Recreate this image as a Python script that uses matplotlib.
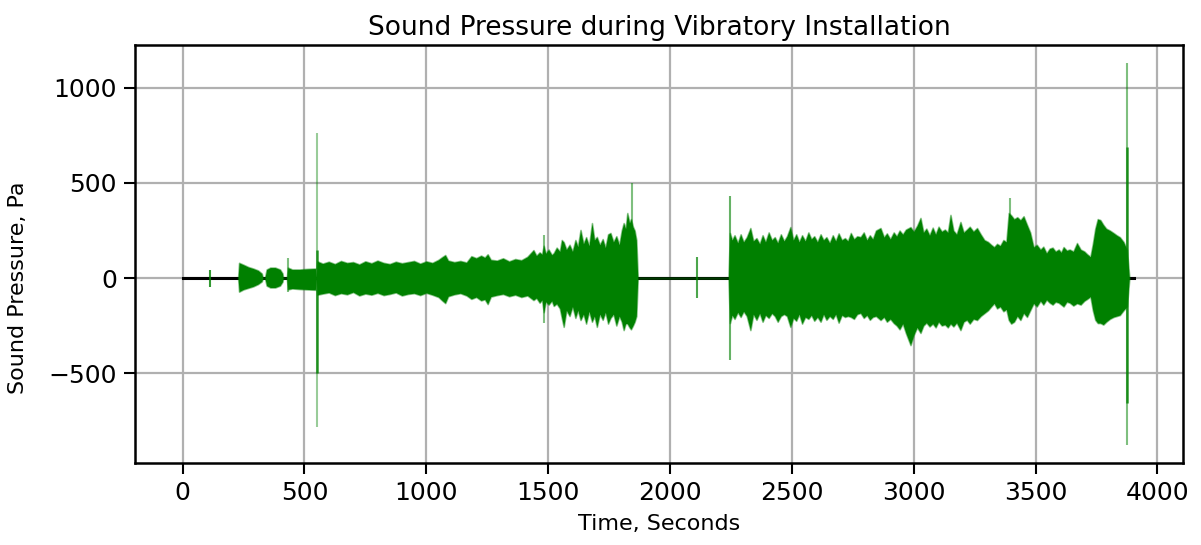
import numpy as np
from matplotlib import pyplot as plt

# quiet record (black trace) runs the whole length
record_t = [0, 3905]
record_p = [0, 0]

# envelope of the green waveform: time (s), upper / lower (Pa)
env_t = [228, 232, 250, 270, 290, 310, 325, 330,
         338, 345, 360, 380, 400, 410, 413,
         428, 432, 450, 480, 510, 545, 549,
         553, 575, 600, 625, 650, 675, 700, 725, 750, 775,
         800, 825, 850, 875, 900, 925, 950, 975, 1000, 1025,
         1050, 1065, 1078, 1090, 1115, 1140, 1165, 1185, 1205, 1225,
         1240, 1252, 1265, 1290, 1315, 1340, 1365, 1390, 1415, 1440,
         1452, 1465, 1475, 1482, 1490, 1502, 1515, 1523, 1535, 1548,
         1556, 1564, 1575, 1588, 1600, 1612, 1622, 1633, 1645, 1656,
         1668, 1680, 1690, 1700, 1712, 1724, 1735, 1746, 1756, 1768,
         1780, 1792, 1802, 1810, 1818, 1825, 1834, 1840, 1848, 1855, 1862, 1868,
         2240, 2246, 2255, 2265, 2278, 2290, 2302, 2315, 2330, 2342,
         2355, 2368, 2380, 2392, 2405, 2418, 2430, 2442, 2455, 2468,
         2480, 2494, 2506, 2518, 2530, 2542, 2555, 2568, 2580, 2592,
         2605, 2618, 2630, 2642, 2655, 2668, 2680, 2692, 2705, 2718,
         2730, 2742, 2755, 2768, 2782, 2795, 2808, 2820, 2832, 2845,
         2864, 2878, 2890, 2904, 2918, 2930, 2942, 2955, 2968, 2987,
         3000, 3014, 3028, 3040, 3052, 3065, 3078, 3090, 3102, 3115,
         3128, 3140, 3151, 3163, 3176, 3192, 3205, 3218, 3230, 3245,
         3260, 3275, 3290, 3305, 3318, 3330, 3342, 3355, 3368, 3380,
         3390, 3400, 3412, 3425, 3438, 3451, 3465, 3478, 3492, 3505,
         3520, 3532, 3545, 3558, 3570, 3582, 3595, 3605, 3615, 3628,
         3640, 3655, 3670, 3685, 3700, 3712, 3725, 3735, 3745, 3755,
         3766, 3778, 3790, 3805, 3820, 3833, 3846, 3861, 3875, 3885]
env_hi = [0, 80, 70, 58, 50, 40, 24, 0,
          0, 45, 55, 55, 45, 25, 0,
          0, 55, 45, 45, 48, 50, 0,
          88, 76, 86, 74, 90, 80, 84, 72, 88, 78,
          92, 80, 74, 86, 78, 84, 90, 76, 88, 80,
          96, 110, 121, 92, 84, 90, 82, 115, 105, 118,
          108, 125, 96, 92, 104, 88, 100, 94, 112, 147,
          118, 135, 125, 170, 130, 150, 122, 131, 160, 140,
          200, 189, 150, 175, 140, 200, 165, 253, 180, 215,
          170, 289, 200, 216, 175, 205, 160, 230, 237, 190,
          220, 175, 250, 289, 260, 342, 290, 310, 270, 250, 200, 0,
          0, 237, 200, 225, 185, 230, 190, 215, 263, 195,
          210, 180, 225, 190, 240, 200, 215, 185, 230, 195,
          220, 268, 200, 230, 190, 225, 195, 240, 205, 220,
          190, 230, 200, 215, 185, 225, 195, 235, 200, 210,
          195, 237, 205, 220, 216, 240, 200, 225, 205, 250,
          263, 215, 235, 205, 240, 220, 250, 230, 255, 268,
          245, 275, 316, 240, 260, 225, 265, 230, 270, 245,
          255, 240, 332, 250, 230, 295, 240, 255, 270, 245,
          263, 230, 200, 190, 175, 163, 180, 170, 200, 190,
          342, 330, 310, 320, 305, 325, 280, 240, 163, 175,
          150, 165, 131, 155, 160, 140, 150, 135, 163, 145,
          150, 140, 184, 150, 140, 125, 112, 180, 260, 310,
          305, 280, 260, 250, 237, 225, 215, 190, 150, 0]
env_lo = [0, -72, -60, -52, -44, -32, -18, 0,
          0, -40, -50, -50, -40, -20, 0,
          0, -60, -55, -58, -60, -62, 0,
          -88, -82, -76, -90, -80, -86, -74, -92, -82, -88,
          -78, -90, -84, -76, -92, -84, -80, -90, -78, -88,
          -100, -118, -132, -96, -86, -80, -92, -110, -100, -118,
          -112, -137, -98, -90, -84, -96, -88, -100, -92, -116,
          -105, -130, -115, -180, -125, -140, -120, -147, -135, -160,
          -210, -257, -170, -200, -150, -210, -170, -221, -190, -240,
          -175, -230, -200, -257, -190, -220, -180, -240, -210, -190,
          -250, -200, -230, -274, -240, -240, -260, -270, -250, -230, -200, 0,
          0, -237, -195, -215, -180, -205, -175, -200, -274, -190,
          -220, -185, -230, -195, -210, -185, -200, -230, -200, -190,
          -200, -257, -210, -225, -190, -240, -205, -215, -195, -225,
          -205, -230, -190, -220, -200, -215, -190, -235, -195, -205,
          -200, -205, -215, -190, -184, -210, -195, -220, -205, -200,
          -221, -205, -230, -215, -237, -250, -270, -240, -290, -353,
          -300, -260, -289, -250, -235, -255, -240, -260, -230, -250,
          -245, -260, -240, -255, -235, -274, -230, -220, -240, -215,
          -221, -200, -185, -170, -150, -133, -160, -150, -175, -165,
          -221, -240, -230, -200, -221, -184, -205, -170, -133, -150,
          -120, -140, -114, -130, -140, -125, -130, -140, -150, -125,
          -130, -145, -133, -140, -120, -110, -98, -170, -220, -237,
          -237, -245, -230, -215, -205, -200, -195, -170, -150, 0]

# isolated thin peaks (light green)
spike_t = [111, 432, 553, 1482, 1846, 2112, 2245, 3397, 3877]
spike_hi = [42, 105, 765, 226, 500, 111, 432, 421, 1131]
spike_lo = [-47, -74, -785, -237, -250, -105, -432, -221, -879]
spike_alpha = [0.8, 0.5, 0.4, 0.5, 0.5, 0.7, 0.6, 0.5, 0.5]

# darker cores of the two biggest peaks
core_t = [553, 3877]
core_hi = [147, 690]
core_lo = [-500, -658]

fig = plt.figure(figsize=(12.01, 5.45), dpi=100)
ax = fig.add_axes([0.1124, 0.1505, 0.8726, 0.767])

ax.plot(record_t, record_p, color='black', lw=2.2, zorder=2)
ax.fill_between(env_t, env_lo, env_hi, color='green', lw=1.2,
                edgecolor=(0, 0.5, 0, 0.45), zorder=3)
for t, hi, lo, a in zip(spike_t, spike_hi, spike_lo, spike_alpha):
    ax.vlines(t, lo, hi, color='green', alpha=a, lw=1.5, zorder=3)
ax.vlines(core_t, core_lo, core_hi, color='green', alpha=0.8, lw=1.8, zorder=3)

ax.set_xlim(-195, 4105)
ax.set_ylim(-973, 1226)
ax.set_xticks(np.arange(0, 4001, 500))
ax.set_yticks([-500, 0, 500, 1000])
ax.grid(True, color='#b0b0b0', lw=1.6)
ax.set_axisbelow(True)
for s in ax.spines.values():
    s.set_linewidth(1.8)
ax.tick_params(labelsize=18, length=8, width=1.5, pad=5)

ax.set_title("Sound Pressure during Vibratory Installation", fontsize=19, pad=7)
ax.set_xlabel("Time, Seconds", fontsize=16)
ax.set_ylabel("Sound Pressure, Pa", fontsize=16)
ax.xaxis.set_label_coords(0.5, -0.122)
ax.yaxis.set_label_coords(-0.102, 0.42)

fig.savefig("out.png", dpi=100)
